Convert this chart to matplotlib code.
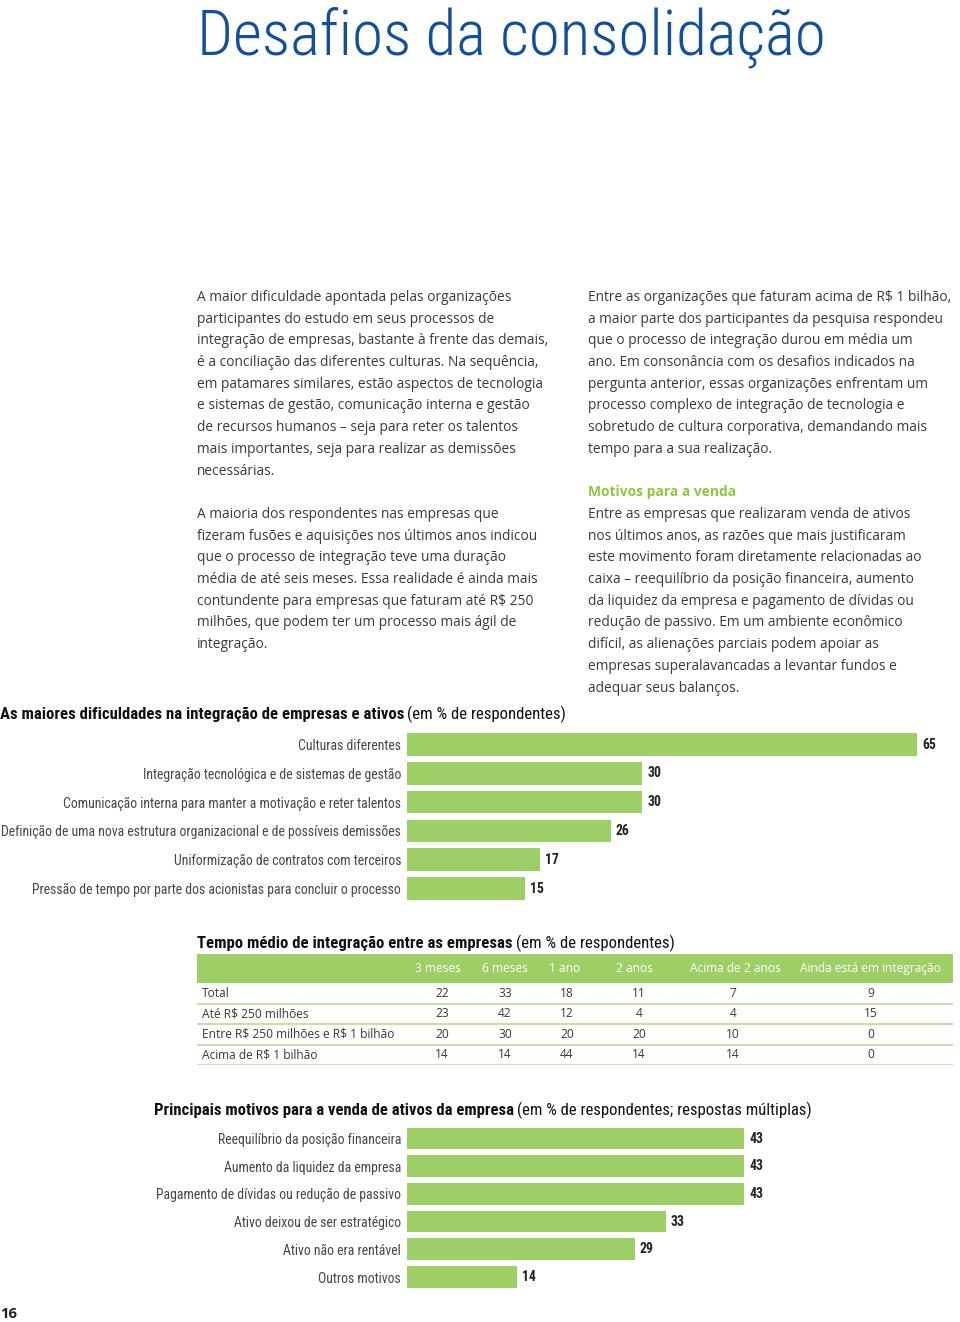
import matplotlib
matplotlib.use('Agg')
import matplotlib.pyplot as plt
from matplotlib import font_manager as fm

plt.rcParams['text.parse_math'] = False

# ---------------- data ----------------
title = "Desafios da consolidação"

left_col = [
    "A maior dificuldade apontada pelas organizações",
    "participantes do estudo em seus processos de",
    "integração de empresas, bastante à frente das demais,",
    "é a conciliação das diferentes culturas. Na sequência,",
    "em patamares similares, estão aspectos de tecnologia",
    "e sistemas de gestão, comunicação interna e gestão",
    "de recursos humanos – seja para reter os talentos",
    "mais importantes, seja para realizar as demissões",
    "necessárias.",
    "",
    "A maioria dos respondentes nas empresas que",
    "fizeram fusões e aquisições nos últimos anos indicou",
    "que o processo de integração teve uma duração",
    "média de até seis meses. Essa realidade é ainda mais",
    "contundente para empresas que faturam até R$ 250",
    "milhões, que podem ter um processo mais ágil de",
    "integração.",
]

right_col = [
    "Entre as organizações que faturam acima de R$ 1 bilhão,",
    "a maior parte dos participantes da pesquisa respondeu",
    "que o processo de integração durou em média um",
    "ano. Em consonância com os desafios indicados na",
    "pergunta anterior, essas organizações enfrentam um",
    "processo complexo de integração de tecnologia e",
    "sobretudo de cultura corporativa, demandando mais",
    "tempo para a sua realização.",
    "",
    "Motivos para a venda",
    "Entre as empresas que realizaram venda de ativos",
    "nos últimos anos, as razões que mais justificaram",
    "este movimento foram diretamente relacionadas ao",
    "caixa – reequilíbrio da posição financeira, aumento",
    "da liquidez da empresa e pagamento de dívidas ou",
    "redução de passivo. Em um ambiente econômico",
    "difícil, as alienações parciais podem apoiar as",
    "empresas superalavancadas a levantar fundos e",
    "adequar seus balanços.",
]
right_heading = "Motivos para a venda"

chart1_title_bold = "As maiores dificuldades na integração de empresas e ativos"
chart1_title_rest = "(em % de respondentes)"
chart1_cats = [
    "Culturas diferentes",
    "Integração tecnológica e de sistemas de gestão",
    "Comunicação interna para manter a motivação e reter talentos",
    "Definição de uma nova estrutura organizacional e de possíveis demissões",
    "Uniformização de contratos com terceiros",
    "Pressão de tempo por parte dos acionistas para concluir o processo",
]
chart1_vals = [65, 30, 30, 26, 17, 15]

table_title_bold = "Tempo médio de integração entre as empresas"
table_title_rest = "(em % de respondentes)"
table_cols = ["3 meses", "6 meses", "1 ano", "2 anos", "Acima de 2 anos",
              "Ainda está em integração"]
table_rows = ["Total", "Até R$ 250 milhões",
              "Entre R$ 250 milhões e R$ 1 bilhão", "Acima de R$ 1 bilhão"]
row_total = [22, 33, 18, 11, 7, 9]
row_ate_250mi = [23, 42, 12, 4, 4, 15]
row_250mi_1bi = [20, 30, 20, 20, 10, 0]
row_acima_1bi = [14, 14, 44, 14, 14, 0]
table_values = [row_total, row_ate_250mi, row_250mi_1bi, row_acima_1bi]

chart2_title_bold = "Principais motivos para a venda de ativos da empresa"
chart2_title_rest = "(em % de respondentes; respostas múltiplas)"
chart2_cats = [
    "Reequilíbrio da posição financeira",
    "Aumento da liquidez da empresa",
    "Pagamento de dívidas ou redução de passivo",
    "Ativo deixou de ser estratégico",
    "Ativo não era rentável",
    "Outros motivos",
]
chart2_vals = [43, 43, 43, 33, 29, 14]

page_number = "16"

# ---------------- style ----------------
W, H, DPI = 960, 1322, 100
GREEN = '#9ECF66'
HEAD_GREEN = '#8DC641'
BLUE = '#124F98'
TEXT = '#3a3a3a'
LABEL = '#474747'
LINE = '#C9DEB0'

names = {f.name for f in fm.fontManager.ttflist}
BODY = 'Open Sans' if 'Open Sans' in names else 'DejaVu Sans'
COND = next((n for n in ['Roboto Condensed', 'Liberation Sans Narrow',
                         'Open Sans Condensed'] if n in names), None)
COND_KW = {'family': COND} if COND else {'family': 'DejaVu Sans', 'fontstretch': 'condensed'}

fig = plt.figure(figsize=(W / DPI, H / DPI), dpi=DPI)
fig.patch.set_facecolor('white')
R = fig.canvas.get_renderer()


def fx(x):
    return x / W


def fy(y):
    return 1 - y / H


def twidth(s, size=10, **kw):
    t = fig.text(0, 0, s, fontsize=size, **kw)
    w = t.get_window_extent(R).width
    t.remove()
    return w


def fit(s, target, **kw):
    return 10 * target / twidth(s, 10, **kw)


def px_axes(left, top, width, height):
    ax = fig.add_axes([left / W, 1 - (top + height) / H, width / W, height / H])
    return ax


def rich(x, y, bold, rest, target, kw, color='#111111'):
    wb = twidth(bold, 10, fontweight='bold', **kw)
    wr = twidth(rest, 10, **kw)
    ws = twidth("x x", 10, **kw) - twidth("xx", 10, **kw)
    size = 10 * target / (wb + wr + ws)
    fig.text(fx(x), fy(y), bold, fontsize=size, fontweight='bold', color=color,
             va='baseline', ha='left', **kw)
    fig.text(fx(x + (wb + ws) * size / 10), fy(y), rest, fontsize=size,
             color=color, va='baseline', ha='left', **kw)


# ---------------- title ----------------
tkw = dict(COND_KW)
tsize = fit(title, 629, fontweight='light', **tkw)
fig.text(fx(197), fy(55), title, fontsize=tsize, fontweight='light', color=BLUE,
         va='baseline', ha='left', **tkw)

# ---------------- body text ----------------
bsize = min(fit(left_col[2], 363, family=BODY), fit(right_col[0], 364, family=BODY),
            fit(right_col[1], 366, family=BODY))
LS = 21.7
for i, line in enumerate(left_col):
    if line:
        fig.text(fx(197), fy(301 + LS * i), line, fontsize=bsize, family=BODY,
                 color=TEXT, va='baseline', ha='left')
for i, line in enumerate(right_col):
    if not line:
        continue
    if line == right_heading:
        fig.text(fx(588), fy(301 + LS * i), line, fontsize=bsize, family=BODY,
                 fontweight='bold', color=HEAD_GREEN, va='baseline', ha='left')
    else:
        fig.text(fx(588), fy(301 + LS * i), line, fontsize=bsize, family=BODY,
                 color=TEXT, va='baseline', ha='left')

# ---------------- chart 1 ----------------
rich(0, 719, chart1_title_bold, chart1_title_rest, 565, COND_KW)
lsize = min(fit(chart1_cats[2], 345, **COND_KW), fit(chart1_cats[3], 400, **COND_KW))


def bar_chart(ax, cats, vals, xmax, bar_h):
    y = list(range(len(cats)))
    ax.barh(y, vals, height=bar_h, color=GREEN, edgecolor='none')
    ax.set_xlim(0, xmax)
    ax.set_ylim(len(cats) - 0.5, -0.5)
    for s in ax.spines.values():
        s.set_visible(False)
    ax.set_xticks([])
    ax.set_yticks(y)
    ax.set_yticklabels(cats, fontsize=lsize, color=LABEL, **COND_KW)
    ax.tick_params(axis='y', length=0, pad=4.3)
    ax.patch.set_alpha(0)
    for yi, v in zip(y, vals):
        ax.annotate(f"{v}", xy=(v, yi), xytext=(5, 0), textcoords='offset pixels',
                    va='center', ha='left', fontsize=lsize, fontweight='bold',
                    color='#222222', **COND_KW)


ax1 = px_axes(407, 730.1, 550, 172.8)
bar_chart(ax1, chart1_cats, chart1_vals, 70.1, 0.78)

# ---------------- table ----------------
rich(197, 948, table_title_bold, table_title_rest, 477, COND_KW)
tab_size = min(fit(table_rows[2], 193, family=BODY), fit(table_cols[5], 150, family=BODY))
HEAD_H = 29 / 20.5
axt = px_axes(197, 954, 756, 29 + 4 * 20.5)
axt.set_xlim(197, 953)
axt.set_ylim(len(table_rows), -HEAD_H)
axt.axis('off')
axt.axhspan(-HEAD_H, 0, color=GREEN, lw=0)
col_x = [442, 505, 567, 639, 733, 871]
head_x = [438, 505, 565, 634, 735, 870]
for cx, c in zip(head_x, table_cols):
    axt.text(cx, -HEAD_H / 2, c, ha='center', va='center', fontsize=tab_size,
             family=BODY, color='white')
for r, (name, vals) in enumerate(zip(table_rows, table_values)):
    axt.text(202, r + 0.5, name, ha='left', va='center', fontsize=tab_size,
             family=BODY, color=TEXT)
    for cx, v in zip(col_x, vals):
        axt.text(cx, r + 0.5, f"{v}", ha='center', va='center', fontsize=tab_size,
                 family=BODY, color=TEXT)
    axt.axhline(r + 1, color=LINE, lw=1.5 if r < len(table_rows) - 1 else 2)

# ---------------- chart 2 ----------------
rich(154, 1115, chart2_title_bold, chart2_title_rest, 656, COND_KW)
ax2 = px_axes(407, 1124.65, 550, 166.2)
bar_chart(ax2, chart2_cats, chart2_vals, 70.1, 0.78)

# ---------------- page number ----------------
fig.text(fx(0), fy(1318), page_number, fontsize=fit(page_number, 17, family=BODY,
         fontweight='bold'), family=BODY, fontweight='bold', color='#222222',
         va='baseline', ha='left')

fig.savefig('out.png', dpi=DPI, facecolor='white')
